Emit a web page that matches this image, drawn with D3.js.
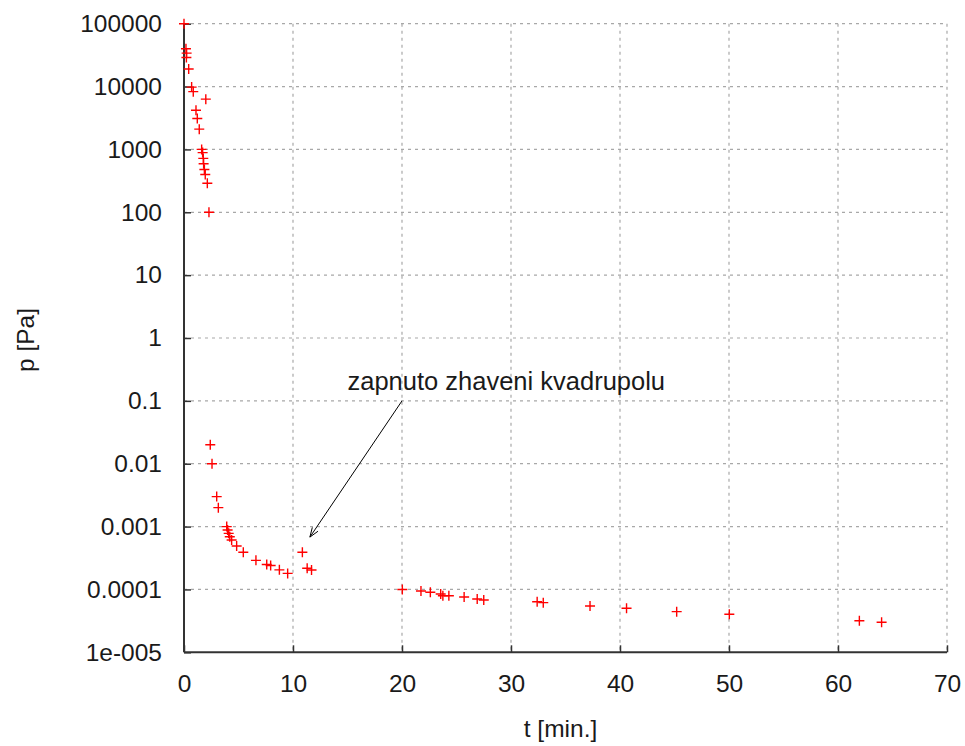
<!DOCTYPE html>
<html>
<head>
<meta charset="utf-8">
<script src="https://cdn.jsdelivr.net/npm/d3@7"></script>
<style>
  html, body { margin: 0; padding: 0; background: #fff; }
  svg text { font-family: "Liberation Sans", Arial, sans-serif; fill: #1a1a1a; }
</style>
</head>
<body>
<svg id="chart" width="965" height="746"></svg>
<script>
// ---- data ----
const timeMin = [0, 0.18, 0.24, 0.22, 0.43, 0.7, 0.85, 2.0, 1.1, 1.22, 1.4, 1.62, 1.71, 1.77, 1.8, 1.87, 1.95, 2.14, 2.29,
  2.41, 2.57, 3.0, 3.15, 3.92, 4.0, 4.1, 4.2, 4.37, 4.83, 5.44, 6.6, 7.59, 7.95, 8.75, 9.51,
  10.86, 11.3, 11.7,
  20.03, 21.74, 22.6, 23.55, 23.75, 24.3, 25.7, 26.9, 27.5, 32.4, 32.96,
  37.25, 40.6, 45.2, 50.03, 61.96, 64.0];
const pressurePa = [100000, 40000, 34000, 29000, 19000, 9800, 8300, 6300, 4200, 3100, 2100, 1000, 890, 720, 590, 480, 400, 290, 100,
  0.02, 0.01, 0.003, 0.002, 0.001, 0.00088, 0.00078, 0.00069, 0.00061, 0.00049, 0.00039, 0.00029, 0.00025, 0.00024, 0.000205, 0.00018,
  0.00039, 0.000217, 0.000204,
  0.0001, 0.0000944, 0.00009, 0.0000846, 0.0000795, 0.0000795, 0.0000758, 0.0000705, 0.0000679, 0.0000638, 0.0000616,
  0.0000546, 0.0000501, 0.0000443, 0.0000403, 0.0000318, 0.00003];

const xTicks = [0, 10, 20, 30, 40, 50, 60, 70];
const yTicks = [1e5, 1e4, 1e3, 100, 10, 1, 0.1, 0.01, 0.001, 0.0001, 1e-5];
const yTickLabels = ["100000", "10000", "1000", "100", "10", "1", "0.1", "0.01", "0.001", "0.0001", "1e-005"];

const xLabel = "t [min.]";
const yLabel = "p [Pa]";
const annotationText = "zapnuto zhaveni kvadrupolu";
const annotationLabelPos = [15, 0.15];
const annotationArrowFrom = [20, 0.1];
const annotationArrowTo = [11.55, 0.00068];

// ---- layout ----
const svg = d3.select("#chart");
const mLeft = 184, mRight = 947, mTop = 23.7, mBottom = 652.3;
const fs = 24.5;

const x = d3.scaleLinear().domain([0, 70]).range([mLeft, mRight]);
const y = d3.scaleLog().domain([1e-5, 1e5]).range([mBottom, mTop]);

// grid
const grid = svg.append("g").attr("stroke", "#a8a8a8").attr("stroke-width", 1.2).attr("stroke-dasharray", "3,4");
grid.selectAll("line.v").data(xTicks.filter(d => d > 0)).join("line")
  .attr("x1", d => x(d)).attr("x2", d => x(d)).attr("y1", mTop).attr("y2", mBottom);
grid.selectAll("line.h").data(yTicks.filter(d => d > 1e-5)).join("line")
  .attr("y1", d => y(d)).attr("y2", d => y(d)).attr("x1", mLeft).attr("x2", mRight);

// axes
const xAxis = d3.axisBottom(x).tickValues(xTicks).tickSize(-7).tickPadding(22).tickFormat(d3.format("d"));
const gx = svg.append("g").attr("transform", `translate(0,${mBottom})`).call(xAxis);
gx.select(".domain").attr("stroke", "#333").attr("stroke-width", 2).attr("d", `M${mLeft},0H${mRight}`);
gx.selectAll(".tick line").attr("stroke", "#333").attr("stroke-width", 1.5);
gx.selectAll(".tick text").attr("font-size", fs).attr("font-family", "Liberation Sans, Arial, sans-serif").attr("fill", "#1a1a1a");

const yAxis = d3.axisLeft(y).tickValues(yTicks).tickSize(-7).tickPadding(22)
  .tickFormat((d, i) => yTickLabels[i]);
const gy = svg.append("g").attr("transform", `translate(${mLeft},0)`).call(yAxis);
gy.select(".domain").attr("stroke", "#333").attr("stroke-width", 2).attr("d", `M0,${mTop}V${mBottom}`);
gy.selectAll(".tick line").attr("stroke", "#333").attr("stroke-width", 1.5);
gy.selectAll(".tick text").attr("font-size", fs).attr("font-family", "Liberation Sans, Arial, sans-serif").attr("fill", "#1a1a1a");

// axis titles
svg.append("text").attr("x", (mLeft + mRight) / 2 - 5).attr("y", 737).attr("text-anchor", "middle")
  .attr("font-size", fs).text(xLabel);
svg.append("text").attr("transform", "translate(34,340) rotate(-90)").attr("text-anchor", "middle")
  .attr("font-size", fs).text(yLabel);

// points
const pts = timeMin.map((t, i) => ({ t, p: pressurePa[i] }));
const s = 5;
svg.append("g").attr("stroke", "#ff0000").attr("stroke-width", 1.4)
  .selectAll("path").data(pts).join("path")
  .attr("d", d => `M${x(d.t) - s},${y(d.p)}H${x(d.t) + s}M${x(d.t)},${y(d.p) - s}V${y(d.p) + s}`);

// annotation
svg.append("text").attr("x", x(annotationLabelPos[0])).attr("y", y(annotationLabelPos[1]))
  .attr("font-size", fs + 1).text(annotationText);
const ax1 = x(annotationArrowFrom[0]), ay1 = y(annotationArrowFrom[1]);
const ax2 = x(annotationArrowTo[0]), ay2 = y(annotationArrowTo[1]);
svg.append("line").attr("x1", ax1).attr("y1", ay1).attr("x2", ax2).attr("y2", ay2)
  .attr("stroke", "#000").attr("stroke-width", 1);
const ang = Math.atan2(ay2 - ay1, ax2 - ax1);
const hl = 10, ha = Math.PI / 9;
svg.append("path")
  .attr("d", `M${ax2 - hl * Math.cos(ang - ha)},${ay2 - hl * Math.sin(ang - ha)}L${ax2},${ay2}L${ax2 - hl * Math.cos(ang + ha)},${ay2 - hl * Math.sin(ang + ha)}`)
  .attr("fill", "none").attr("stroke", "#000").attr("stroke-width", 1);
</script>
</body>
</html>
